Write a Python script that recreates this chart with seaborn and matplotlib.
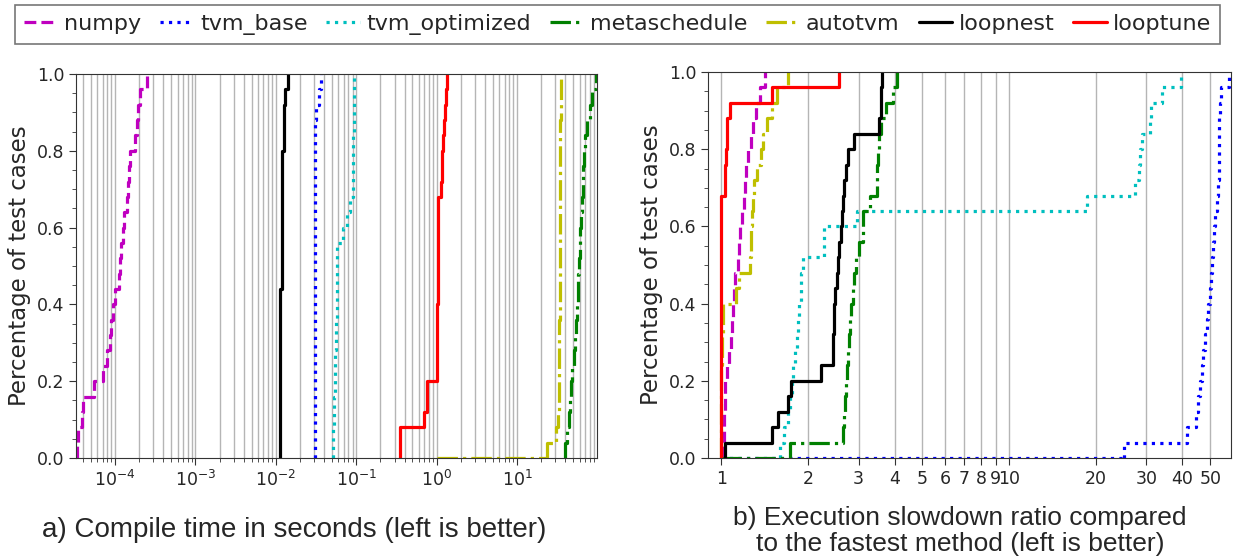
import matplotlib
matplotlib.use("Agg")
import matplotlib.pyplot as plt
from matplotlib.ticker import MultipleLocator, NullLocator, FixedLocator, FixedFormatter
import seaborn as sns

# 方法名稱與樣式
methods = ["numpy", "tvm_base", "tvm_optimized", "metaschedule", "autotvm", "loopnest", "looptune"]
colors = ["m", "b", "c", "g", "y", "k", "r"]
styles = ["--", ":", ":", "-.", "-.", "-", "-"]

# a) 編譯時間 (秒), 每個方法 25 個測試案例
compile_numpy = [3.4e-5, 3.5e-5, 3.9e-5, 4.0e-5, 5.4e-5, 7.0e-5, 8.0e-5, 8.6e-5, 9.0e-5, 9.5e-5,
                 1.0e-4, 1.13e-4, 1.16e-4, 1.2e-4, 1.25e-4, 1.3e-4, 1.4e-4, 1.47e-4, 1.5e-4, 1.55e-4,
                 1.78e-4, 1.85e-4, 1.95e-4, 2.05e-4, 2.5e-4]
compile_tvm_base = [0.031] * 22 + [0.032, 0.034, 0.036]
compile_tvm_opt = [0.052, 0.052, 0.053, 0.053, 0.054, 0.055, 0.055, 0.056, 0.056, 0.057,
                   0.057, 0.058, 0.058, 0.058, 0.069, 0.076, 0.084, 0.090, 0.091, 0.092,
                   0.092, 0.093, 0.094, 0.094, 0.095]
compile_metaschedule = [40, 42, 44, 45.6, 47, 49, 51, 53, 55, 56, 57, 58, 59, 60, 61, 62, 64, 66,
                        67, 69, 71, 74, 81, 87, 97]
compile_autotvm = [23.5, 31, 32, 33, 33.3, 33.5, 33.6, 33.7, 33.8, 33.9, 34, 34, 34.1, 34.2,
                   34.3, 34.3, 34.4, 34.5, 34.5, 34.6, 34.7, 34.8, 34.9, 35, 35]
compile_loopnest = [0.0112] * 6 + [0.0113] * 5 + [0.0118] * 5 + [0.0119] * 4 + [0.0125, 0.0126, 0.0127, 0.0132, 0.0143]
compile_looptune = [0.35, 0.35, 0.70, 0.75, 0.76, 1.0, 1.01, 1.01, 1.02, 1.02, 1.03, 1.03, 1.03,
                    1.04, 1.04, 1.05, 1.05, 1.15, 1.16, 1.18, 1.21, 1.23, 1.27, 1.30, 1.33]

# b) 執行時間相對最快方法的倍數
slow_numpy = [1.01, 1.02, 1.025, 1.03, 1.035, 1.05, 1.065, 1.08, 1.09, 1.10, 1.11, 1.12, 1.14,
              1.15, 1.16, 1.18, 1.20, 1.21, 1.22, 1.24, 1.27, 1.29, 1.32, 1.36, 1.42]
slow_tvm_base = [25, 41.6, 44.5, 45.3, 46, 46.7, 47.3, 48, 48.6, 49.2, 49.8, 50.4, 50.8, 51.1,
                 51.5, 51.9, 52.6, 53.2, 53.4, 53.5, 53.6, 53.8, 54.1, 54.4, 58]
slow_tvm_opt = [1.6, 1.65, 1.7, 1.73, 1.76, 1.78, 1.8, 1.83, 1.85, 1.87, 1.89, 1.9, 1.92, 2.27,
                2.28, 2.96, 18.6, 27.4, 28.2, 28.6, 28.9, 30.9, 31.0, 33.9, 39.5]
slow_metaschedule = [1.73, 2.66, 2.68, 2.70, 2.72, 2.74, 2.76, 2.78, 2.80, 2.83, 2.86, 2.90, 2.95,
                     3.0, 3.1, 3.12, 3.3, 3.47, 3.48, 3.5, 3.52, 3.6, 3.75, 3.95, 4.07]
slow_autotvm = [1.0, 1.0, 1.0, 1.0, 1.0, 1.0, 1.005, 1.01, 1.012, 1.015, 1.13, 1.15, 1.26, 1.27,
                1.27, 1.28, 1.29, 1.30, 1.33, 1.37, 1.40, 1.44, 1.50, 1.56, 1.70]
slow_loopnest = [1.03, 1.5, 1.57, 1.71, 1.75, 2.22, 2.44, 2.45, 2.46, 2.47, 2.48, 2.52, 2.55,
                 2.57, 2.60, 2.62, 2.65, 2.68, 2.72, 2.76, 2.90, 3.52, 3.58, 3.60, 3.62]
slow_looptune = [1.0] * 17 + [1.03, 1.035, 1.04, 1.045, 1.05, 1.07, 1.5, 2.57]

# 曲線在 0% 處的起點 (原圖中看得到的水平段)
compile_zero_start = {"autotvm": 1.0}
slow_zero_start = {"tvm_base": 1.0, "metaschedule": 1.0}

compile_data = [compile_numpy, compile_tvm_base, compile_tvm_opt, compile_metaschedule,
                compile_autotvm, compile_loopnest, compile_looptune]
slow_data = [slow_numpy, slow_tvm_base, slow_tvm_opt, slow_metaschedule,
             slow_autotvm, slow_loopnest, slow_looptune]

slow_ticks = [1, 2, 3, 4, 5, 6, 7, 8, 9, 10, 20, 30, 40, 50]

sns.set_style("ticks")
plt.rcParams["font.family"] = ["DejaVu Sans"]

fig = plt.figure(figsize=(12.33, 5.58), dpi=100)
ax1 = fig.add_axes([76 / 1233, 1 - 458 / 558, 521 / 1233, 384 / 558])
ax2 = fig.add_axes([708 / 1233, 1 - 458 / 558, 523 / 1233, 386 / 558])


def draw_cdf(ax, data, zero_start):
    for vals, name, c, ls in zip(data, methods, colors, styles):
        sns.ecdfplot(x=vals, ax=ax, color=c, linestyle=ls, linewidth=2.3, label=name, log_scale=True)
        if name in zero_start:
            ax.plot([zero_start[name], min(vals)], [0, 0], color=c, linestyle=ls, linewidth=2.3)


draw_cdf(ax1, compile_data, compile_zero_start)
draw_cdf(ax2, slow_data, slow_zero_start)

ax1.set_xlim(3.27e-5, 99)
ax2.set_xlim(0.9, 59)

ax2.xaxis.set_major_locator(FixedLocator(slow_ticks))
ax2.xaxis.set_major_formatter(FixedFormatter([str(t) for t in slow_ticks]))
ax2.xaxis.set_minor_locator(NullLocator())

for ax in (ax1, ax2):
    ax.set_ylim(0, 1)
    ax.yaxis.set_major_locator(MultipleLocator(0.2))
    ax.yaxis.set_minor_locator(MultipleLocator(0.05))
    ax.grid(True, which="both", axis="x", color="#b5b5b5", linewidth=1)
    ax.set_axisbelow(True)
    ax.set_xlabel("")
    ax.set_ylabel("Percentage of test cases", fontsize=16.5)
    ax.tick_params(axis="both", which="major", labelsize=12.5, length=5, color="#333333")
    ax.tick_params(axis="both", which="minor", length=3, color="#333333")
    for s in ax.spines.values():
        s.set_visible(True)
        s.set_color("#333333")

handles, labels = ax1.get_legend_handles_labels()
leg = fig.legend(handles, labels, loc="upper left", bbox_to_anchor=(15 / 1233, 1 - 5 / 558),
                 ncol=7, fontsize=16, handlelength=1.5, handletextpad=0.3, columnspacing=0.85,
                 frameon=True, fancybox=False, borderpad=0.4, borderaxespad=0)
leg.get_frame().set_edgecolor("#555555")
leg.get_frame().set_linewidth(1.2)

cap_font = ["Liberation Sans", "DejaVu Sans"]
fig.text(294 / 1233, 1 - 530 / 558, "a) Compile time in seconds (left is better)",
         ha="center", va="center", fontsize=20, family=cap_font)
fig.text(960 / 1233, 1 - 531 / 558, "b) Execution slowdown ratio compared\nto the fastest method (left is better)",
         ha="center", va="center", fontsize=19, family=cap_font, linespacing=1.15)

fig.savefig("out.png", dpi=100)
